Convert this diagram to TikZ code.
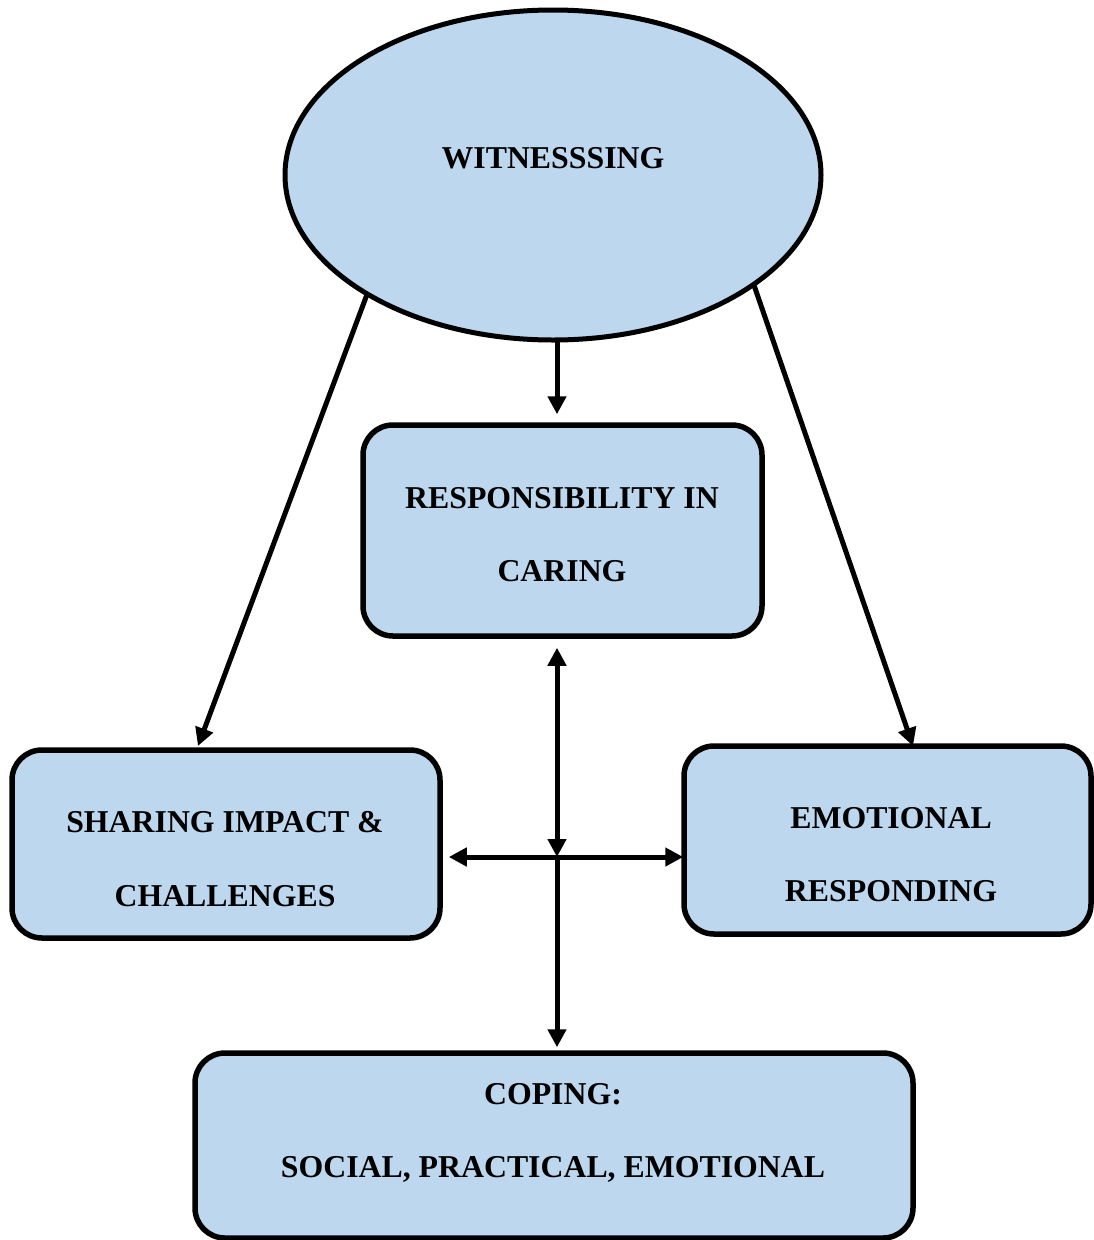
\documentclass[tikz,border=0pt]{standalone}
\usepackage{fontspec}
\setmainfont{Liberation Serif}
\usetikzlibrary{shapes.geometric,arrows.meta}
\definecolor{boxblue}{HTML}{BDD7EE}
\tikzset{
  box/.style={draw=black, line width=5.5pt, fill=boxblue, rounded corners=30pt, inner sep=0pt},
  lbl/.style={anchor=base, inner sep=0pt, font=\fontsize{31.8}{38}\selectfont\bfseries},
  tip/.style={-{Triangle[length=18pt,width=18pt]}},
  conn/.style={line width=5pt, tip},
  dconn/.style={line width=5pt, {Triangle[length=18pt,width=18pt]}-{Triangle[length=18pt,width=18pt]}}
}
\begin{document}
\begin{tikzpicture}[x=1pt,y=-1pt]
\useasboundingbox (0,0) rectangle (1093,1240);
% shapes
\node[draw=black, line width=5pt, fill=boxblue, ellipse, minimum width=536pt, minimum height=330pt, inner sep=0pt] (wit) at (553,175) {};
\node[box, minimum width=399pt, minimum height=211pt] (resp) at (562.5,530.5) {};
\node[box, minimum width=428pt, minimum height=188pt] (share) at (226,844) {};
\node[box, minimum width=407pt, minimum height=188pt] (emo) at (887.5,840) {};
\node[box, minimum width=718pt, minimum height=185pt] (cope) at (554,1145.5) {};
% texts
\node[lbl] (t1) at (553,168) {WITNESSSING};
\node[lbl] (t2) at (562,508) {RESPONSIBILITY IN};
\node[lbl] (t3) at (562,581) {CARING};
\node[lbl] (t4) at (225,832) {SHARING IMPACT \&};
\node[lbl] (t5) at (225,906) {CHALLENGES};
\node[lbl] (t6) at (891,828) {EMOTIONAL};
\node[lbl] (t7) at (891,901) {RESPONDING};
\node[lbl] (t8) at (553,1104) {COPING:};
\node[lbl] (t9) at (553,1177) {SOCIAL, PRACTICAL, EMOTIONAL};
% coordinates
\coordinate (vx) at (557,0);
\coordinate (cross) at (557,857);
\coordinate (lend) at (198,746);
\coordinate (rend) at (913,746);
% connectors
\draw[conn, shorten <=-1pt] (wit.south -| vx) -- ([yshift=8pt]resp.north -| vx);
\draw[conn, shorten <=-1pt] (wit.213) -- (lend);
\draw[conn, shorten <=-1pt] (wit.-29) -- (rend);
\draw[dconn] ([yshift=-9pt]resp.south -| vx) -- (cross);
\draw[conn] (cross) -- ([yshift=3pt]cope.north -| vx);
\draw[dconn] ([xshift=6pt]share.east |- cross) -- ([xshift=2pt]emo.west |- cross);
\end{tikzpicture}
\end{document}
